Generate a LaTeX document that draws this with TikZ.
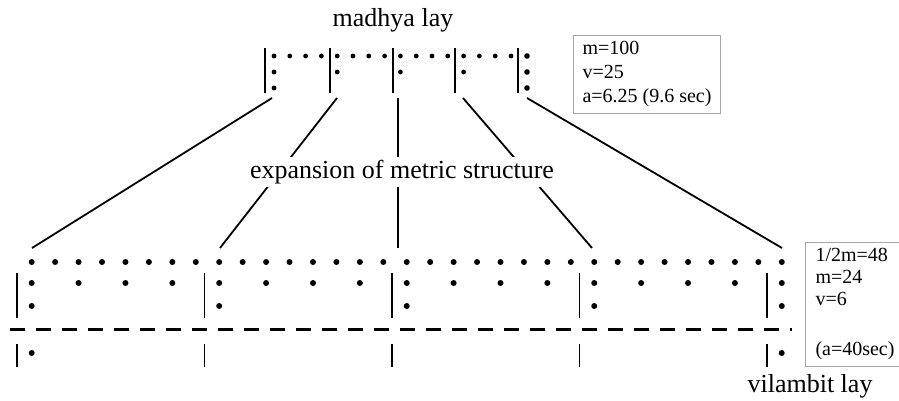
\documentclass[tikz,border=0pt]{standalone}
\usepackage{fontspec}
\setmainfont{Liberation Serif}
\usetikzlibrary{positioning}

\tikzstyle{bar} = [line width=0.9pt]
\tikzstyle{thinbar} = [line width=0.7pt]
\tikzstyle{link} = [line width=0.9pt]
\tikzstyle{cycle line} = [line width=1.5pt, dash pattern=on 7.5pt off 5.5pt]
\tikzstyle{infobox} = [rectangle, draw=gray!70, line width=0.5pt, align=left, anchor=north west, font=\fontsize{10}{12}\selectfont, inner xsep=4.5pt, inner ysep=3pt]
\tikzstyle{laylabel} = [font=\fontsize{13}{15}\selectfont]
\tikzstyle{cover} = [fill=white, inner xsep=0pt, inner ysep=1.5pt, font=\fontsize{13}{15}\selectfont]

\begin{document}
\begin{tikzpicture}[x=0.5pt, y=-0.5pt]
    \useasboundingbox (0,0) rectangle (899,401);

    % madhya lay: four beats of four matras, then sam
    \foreach \i in {0,...,15}
        \fill ({274+15.8*\i},56) circle (1.2pt);
    \foreach \i in {0,4,8,12}
        \fill ({274+15.8*\i},72) circle (1.2pt);
    \fill (274,88) circle (1.2pt);
    \foreach \y in {56,72,88}
        \fill (527,\y) circle (1.4pt);
    \foreach \x in {265,330,393,455,518}
        \draw[bar] (\x,48) -- (\x,93);

    \foreach \k/\x in {1/272,2/337,3/398,4/463,5/527}
        \coordinate (top\k) at (\x,98);

    % vilambit lay: each beat stretched to eight matras
    \foreach \j in {0,...,32}
        \fill ({31.7+23.44*\j},262) circle (1.5pt);
    \foreach \j in {0,2,...,32}
        \fill ({31.7+23.44*\j},283) circle (1.5pt);
    \foreach \j in {0,8,...,32}
        \fill ({31.7+23.44*\j},306) circle (1.5pt);
    \foreach \j in {0,...,4} {
        \draw[thinbar] ({17+187.5*\j},273) -- ++(0,45);
        \draw[thinbar] ({17+187.5*\j},344) -- ++(0,23);
    }
    \draw[cycle line] (10,329) -- (792,329);
    \fill (31.7,353) circle (1.5pt);
    \fill (781.7,353) circle (1.5pt);

    \foreach \k/\x in {1/32,2/220,3/398,4/592,5/782}
        \coordinate (low\k) at (\x,248);

    % Lines
    \foreach \k in {1,...,5}
        \draw[link] (top\k) -- (low\k);

    % Labels
    \node (expansion) [cover] at (402,172) {expansion of metric structure};
    \node (madhya) [laylabel] at (393,20) {madhya lay};
    \node (vilambit) [laylabel] at (810,386) {vilambit lay};

    \node (madhyabox) [infobox] at (573,35) {m=100\\v=25\\a=6.25 (9.6 sec)};
    \node (vilambitbox) [infobox, font=\fontsize{10}{11}\selectfont, inner xsep=5pt] at (805,242) {1/2m=48\\m=24\\v=6\\[14pt](a=40sec)};

\end{tikzpicture}
\end{document}
